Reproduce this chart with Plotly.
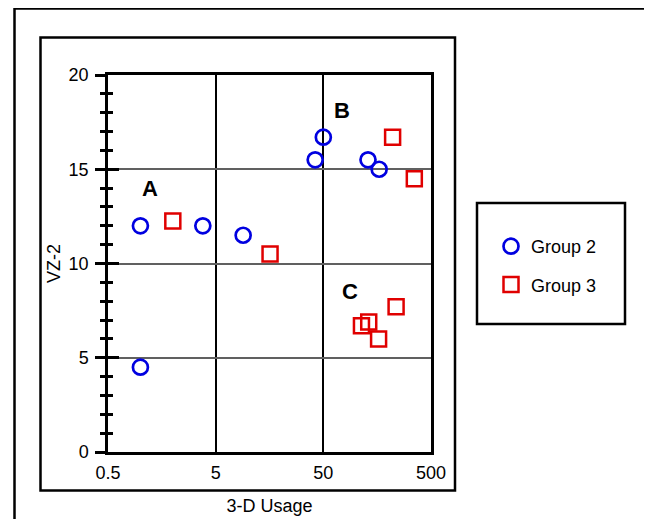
import math
import plotly.graph_objects as go

# ---- data ----
group2_x = [1.0, 1.0, 3.8, 9.0, 42, 50, 130, 165]
group2_y = [12.0, 4.5, 12.0, 11.5, 15.5, 16.7, 15.5, 15.0]
group3_x = [2.0, 16, 220, 350, 113, 132, 163, 237]
group3_y = [12.25, 10.5, 16.7, 14.5, 6.7, 6.9, 6.0, 7.7]
x_ticks = [0.5, 5, 50, 500]
x_tick_text = ["0.5", "5", "50", "500"]
y_ticks = [0, 5, 10, 15, 20]
label_text = ["A", "B", "C"]
label_x = [1.22, 74, 89]
label_y = [14.0, 18.1, 8.5]

W, H = 652, 519
OFF = 8  # page offset of the figure inside the browser window
L, T = 108 - OFF, 75 - OFF
PW, PH = 323, 377
R, B = W - L - PW, H - T - PH


def px(v):
    """screen x (window pixels) -> paper fraction"""
    return (v - OFF - L) / PW


def py(v):
    """screen y (window pixels) -> paper fraction"""
    return (T + PH - (v - OFF)) / PH


FONT = "Liberation Sans, Arial, sans-serif"
BLUE = "#0000e0"
RED = "#e00000"

fig = go.Figure()
fig.add_trace(go.Scatter(
    x=group2_x, y=group2_y, mode="markers", name="Group 2", legendgroup="g2",
    marker=dict(symbol="circle-open", size=15, color=BLUE, line=dict(width=2.7, color=BLUE)),
))
fig.add_trace(go.Scatter(
    x=group3_x, y=group3_y, mode="markers", name="Group 3", legendgroup="g3",
    marker=dict(symbol="square-open", size=15, color=RED, line=dict(width=2.5, color=RED)),
))
# helper trace for the overlay axis that draws inside ticks
fig.add_trace(go.Scatter(x=[None], y=[None], yaxis="y2", showlegend=False, hoverinfo="skip"))

annotations = []
for t, xv, yv in zip(label_text, label_x, label_y):
    annotations.append(dict(x=math.log10(xv), y=yv, xref="x", yref="y", text="<b>" + t + "</b>",
                            showarrow=False, font=dict(family=FONT, size=22, color="black"),
                            xanchor="center", yanchor="middle"))

shapes = [
    dict(type="rect", xref="paper", yref="paper", x0=px(14.5), x1=px(650.5), y0=py(560), y1=py(8.5),
         line=dict(color="black", width=2.5), layer="below"),
    dict(type="rect", xref="paper", yref="paper", x0=px(40.5), x1=px(455), y0=py(490.5), y1=py(37.5),
         line=dict(color="black", width=2.5), layer="below"),
    dict(type="rect", xref="paper", yref="paper", x0=px(477), x1=px(625), y0=py(324), y1=py(203),
         line=dict(color="black", width=2.5), layer="below"),
]

fig.update_layout(
    width=W, height=H,
    margin=dict(l=L, r=R, t=T, b=B, autoexpand=False),
    paper_bgcolor="white", plot_bgcolor="white",
    font=dict(family=FONT, size=18, color="black"),
    showlegend=True,
    legend=dict(x=px(491), y=py(228), xanchor="left", yanchor="top", bgcolor="rgba(0,0,0,0)",
                borderwidth=0, font=dict(family=FONT, size=18), tracegroupgap=12,
                itemsizing="trace"),
    xaxis=dict(type="log", range=[math.log10(0.5), math.log10(500)], tickvals=x_ticks,
               ticktext=x_tick_text, ticks="", showgrid=True, gridcolor="black", gridwidth=2,
               showline=True, linecolor="black", linewidth=2.5, mirror=True, zeroline=False,
               ticklabelstandoff=3,
               title=dict(text="3-D Usage", standoff=18, font=dict(size=18))),
    yaxis=dict(range=[0, 20], tickvals=y_ticks, ticks="outside", ticklen=10, tickwidth=2.5,
               tickcolor="black", showgrid=True, gridcolor="#606060", gridwidth=2,
               showline=True, linecolor="black", linewidth=2.5, mirror=True, zeroline=False,
               ticklabelstandoff=3,
               minor=dict(dtick=1, ticks="outside", ticklen=5, tickwidth=2.5, tickcolor="black",
                          showgrid=False),
               title=dict(text="VZ-2", standoff=4, font=dict(size=18))),
    yaxis2=dict(range=[0, 20], overlaying="y", anchor="x", side="left", tickvals=y_ticks,
                ticks="inside", ticklen=11, tickwidth=2.5, tickcolor="black", showgrid=False,
                showticklabels=False, showline=False, zeroline=False,
                minor=dict(dtick=1, ticks="inside", ticklen=5, tickwidth=2.5, tickcolor="black",
                           showgrid=False)),
    annotations=annotations,
    shapes=shapes,
)

fig.write_html("out.html")
